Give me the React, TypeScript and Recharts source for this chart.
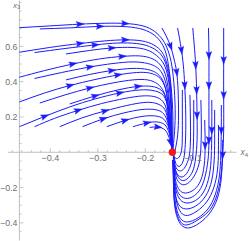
import React from 'react';
import { ComposedChart, Line, Scatter, XAxis, YAxis, ReferenceLine, ReferenceDot } from 'recharts';

type P = [number, number];

// ---- streamlines (x4, x3) ----
const A1: P[] = [[-0.465,0.706],[-0.401,0.716],[-0.338,0.726],[-0.285,0.731],[-0.243,0.730],[-0.205,0.716],[-0.180,0.684],[-0.163,0.636],[-0.152,0.575],[-0.144,0.489],[-0.139,0.360],[-0.137,0.211],[-0.139,0.098],[-0.142,0.002]];
const A2: P[] = [[-0.422,0.699],[-0.359,0.705],[-0.296,0.713],[-0.249,0.713],[-0.212,0.701],[-0.186,0.673],[-0.169,0.631],[-0.158,0.574],[-0.151,0.489],[-0.145,0.353],[-0.142,0.211],[-0.142,0.098],[-0.143,0.002]];
const B1: P[] = [[-0.465,0.567],[-0.401,0.594],[-0.338,0.616],[-0.285,0.631],[-0.243,0.637],[-0.207,0.631],[-0.182,0.608],[-0.165,0.568],[-0.155,0.506],[-0.148,0.410],[-0.145,0.268],[-0.144,0.126],[-0.143,0.002]];
const B2: P[] = [[-0.433,0.565],[-0.369,0.588],[-0.306,0.608],[-0.258,0.619],[-0.218,0.616],[-0.191,0.599],[-0.172,0.568],[-0.159,0.517],[-0.151,0.432],[-0.146,0.296],[-0.144,0.138],[-0.143,0.002]];
const B3: P[] = [[-0.367,0.557],[-0.317,0.577],[-0.271,0.591],[-0.228,0.594],[-0.197,0.580],[-0.176,0.548],[-0.161,0.500],[-0.152,0.421],[-0.147,0.296],[-0.145,0.138],[-0.143,0.002]];
const C1: P[] = [[-0.465,0.425],[-0.412,0.463],[-0.353,0.500],[-0.296,0.529],[-0.249,0.543],[-0.212,0.546],[-0.186,0.531],[-0.170,0.500],[-0.158,0.443],[-0.151,0.342],[-0.147,0.194],[-0.143,0.002]];
const C2: P[] = [[-0.433,0.418],[-0.376,0.452],[-0.317,0.483],[-0.268,0.503],[-0.226,0.512],[-0.195,0.503],[-0.174,0.478],[-0.161,0.427],[-0.153,0.342],[-0.148,0.211],[-0.143,0.002]];
const C3: P[] = [[-0.367,0.410],[-0.317,0.441],[-0.271,0.463],[-0.228,0.475],[-0.195,0.469],[-0.174,0.444],[-0.161,0.393],[-0.154,0.308],[-0.149,0.183],[-0.143,0.002]];
const D1: P[] = [[-0.465,0.285],[-0.412,0.336],[-0.359,0.378],[-0.306,0.412],[-0.258,0.438],[-0.218,0.452],[-0.191,0.449],[-0.172,0.427],[-0.160,0.381],[-0.153,0.302],[-0.149,0.172],[-0.143,0.002]];
const D2: P[] = [[-0.422,0.279],[-0.369,0.325],[-0.317,0.364],[-0.268,0.393],[-0.226,0.410],[-0.195,0.410],[-0.174,0.387],[-0.161,0.342],[-0.154,0.268],[-0.150,0.149],[-0.143,0.002]];
const D3: P[] = [[-0.359,0.274],[-0.306,0.319],[-0.258,0.353],[-0.216,0.373],[-0.186,0.373],[-0.167,0.353],[-0.157,0.308],[-0.151,0.228],[-0.148,0.126],[-0.143,0.002]];
const E1: P[] = [[-0.465,0.145],[-0.412,0.203],[-0.359,0.257],[-0.306,0.302],[-0.254,0.336],[-0.212,0.353],[-0.184,0.350],[-0.165,0.330],[-0.156,0.290],[-0.151,0.223],[-0.148,0.126],[-0.143,0.002]];
const E2: P[] = [[-0.433,0.145],[-0.391,0.192],[-0.342,0.237],[-0.292,0.276],[-0.243,0.305],[-0.207,0.319],[-0.182,0.316],[-0.166,0.296],[-0.157,0.257],[-0.152,0.194],[-0.148,0.109],[-0.143,0.002]];
const E3: P[] = [[-0.380,0.145],[-0.334,0.194],[-0.285,0.234],[-0.239,0.265],[-0.203,0.282],[-0.180,0.279],[-0.164,0.259],[-0.156,0.223],[-0.151,0.160],[-0.147,0.081],[-0.143,0.002]];
const E4: P[] = [[-0.332,0.145],[-0.289,0.189],[-0.245,0.223],[-0.207,0.242],[-0.180,0.242],[-0.164,0.225],[-0.155,0.189],[-0.149,0.126],[-0.143,0.002]];
const E5: P[] = [[-0.281,0.145],[-0.243,0.180],[-0.207,0.203],[-0.180,0.206],[-0.163,0.192],[-0.154,0.160],[-0.148,0.109],[-0.143,0.002]];
const E6: P[] = [[-0.226,0.145],[-0.197,0.166],[-0.176,0.172],[-0.161,0.160],[-0.153,0.132],[-0.147,0.081],[-0.143,0.002]];
const E7: P[] = [[-0.191,0.141],[-0.174,0.143],[-0.161,0.132],[-0.153,0.104],[-0.147,0.058],[-0.143,0.002]];
const V1: P[] = [[-0.165,0.704],[-0.156,0.659],[-0.147,0.602],[-0.140,0.534],[-0.134,0.455],[-0.131,0.353],[-0.130,0.240],[-0.131,0.126],[-0.135,0.041],[-0.140,-0.015]];
const V2: P[] = [[-0.132,0.704],[-0.128,0.647],[-0.124,0.580],[-0.120,0.495],[-0.117,0.381],[-0.115,0.240],[-0.115,0.098],[-0.117,0.002],[-0.121,-0.055],[-0.129,-0.080],[-0.136,-0.062],[-0.139,-0.027]];
const V3: P[] = [[-0.100,0.704],[-0.097,0.608],[-0.094,0.495],[-0.092,0.353],[-0.091,0.211],[-0.091,0.070],[-0.094,-0.032],[-0.100,-0.106],[-0.112,-0.151],[-0.125,-0.157],[-0.135,-0.117],[-0.139,-0.061]];
const V4: P[] = [[-0.067,0.704],[-0.066,0.551],[-0.066,0.381],[-0.066,0.211],[-0.066,0.070],[-0.068,-0.044],[-0.075,-0.146],[-0.087,-0.220],[-0.106,-0.259],[-0.123,-0.253],[-0.134,-0.208],[-0.139,-0.134],[-0.141,-0.055]];
const V5: P[] = [[-0.035,0.704],[-0.035,0.523],[-0.035,0.325],[-0.035,0.126],[-0.037,-0.015],[-0.040,-0.146],[-0.048,-0.259],[-0.064,-0.344],[-0.086,-0.401],[-0.109,-0.429],[-0.126,-0.406],[-0.136,-0.338],[-0.140,-0.242],[-0.141,-0.129],[-0.142,-0.044]];
const O2: P[] = [[-0.040,0.268],[-0.040,0.126],[-0.041,-0.015],[-0.044,-0.134],[-0.053,-0.242],[-0.068,-0.321],[-0.089,-0.372],[-0.111,-0.395],[-0.126,-0.375],[-0.135,-0.310],[-0.139,-0.214],[-0.141,-0.112],[-0.142,-0.044]];
const O3: P[] = [[-0.046,0.155],[-0.046,0.013],[-0.048,-0.100],[-0.056,-0.202],[-0.071,-0.282],[-0.091,-0.333],[-0.111,-0.358],[-0.125,-0.341],[-0.134,-0.282],[-0.138,-0.191],[-0.140,-0.100],[-0.141,-0.044]];
const O4: P[] = [[-0.037,0.070],[-0.038,-0.044],[-0.042,-0.157],[-0.052,-0.265],[-0.068,-0.338],[-0.091,-0.386],[-0.113,-0.412],[-0.127,-0.389],[-0.136,-0.321],[-0.140,-0.225],[-0.141,-0.129],[-0.142,-0.044]];
const M1: P[] = [[-0.060,0.296],[-0.060,0.126],[-0.061,-0.015],[-0.065,-0.128],[-0.076,-0.219],[-0.094,-0.273],[-0.115,-0.287],[-0.129,-0.259],[-0.137,-0.197],[-0.140,-0.112],[-0.141,-0.044]];
const M2: P[] = [[-0.075,0.183],[-0.074,0.041],[-0.076,-0.072],[-0.083,-0.157],[-0.097,-0.211],[-0.115,-0.231],[-0.128,-0.214],[-0.136,-0.163],[-0.139,-0.095],[-0.141,-0.032]];
const M3: P[] = [[-0.054,0.240],[-0.054,0.070],[-0.055,-0.044],[-0.060,-0.157],[-0.073,-0.248],[-0.094,-0.305],[-0.115,-0.321],[-0.129,-0.299],[-0.137,-0.236],[-0.140,-0.146],[-0.141,-0.055]];
const I1: P[] = [[-0.083,0.296],[-0.082,0.155],[-0.083,0.024],[-0.087,-0.066],[-0.097,-0.134],[-0.111,-0.177],[-0.125,-0.180],[-0.135,-0.140],[-0.139,-0.078],[-0.141,-0.027]];
const I2: P[] = [[-0.106,0.325],[-0.105,0.183],[-0.105,0.058],[-0.108,-0.027],[-0.116,-0.083],[-0.126,-0.106],[-0.135,-0.089],[-0.139,-0.049],[-0.141,-0.015]];
const I3: P[] = [[-0.122,0.353],[-0.122,0.211],[-0.122,0.098],[-0.123,0.024],[-0.127,-0.020],[-0.134,-0.036],[-0.139,-0.023],[-0.141,-0.004]];
const I4: P[] = [[-0.098,0.296],[-0.098,0.155],[-0.099,0.024],[-0.103,-0.060],[-0.113,-0.120],[-0.125,-0.140],[-0.135,-0.112],[-0.139,-0.066],[-0.141,-0.021]];

const fixedPoint = [{ x: -0.143, y: 0 }];

// ---- ticks ----
const xMajorTicks = [-0.4, -0.3, -0.2, -0.1];
const xMajorLabels = ['\u22120.4', '\u22120.3', '\u22120.2', '\u22120.1'];
const xMinorTicks = [-0.48,-0.46,-0.44,-0.42,-0.38,-0.36,-0.34,-0.32,-0.28,-0.26,-0.24,-0.22,-0.18,-0.16,-0.14,-0.12,-0.08,-0.06,-0.04,-0.02];
const yMajorTicks = [-0.4, -0.2, 0.2, 0.4, 0.6];
const yMajorLabels = ['\u22120.4', '\u22120.2', '0.2', '0.4', '0.6'];
const yMinorTicks = [-0.45,-0.35,-0.3,-0.25,-0.15,-0.1,-0.05,0.05,0.1,0.15,0.25,0.3,0.35,0.45,0.5,0.55,0.65,0.7,0.75,0.8,0.85];
const xTitle = ['x', '4'];
const yTitle = ['x', '3'];
const yAxisAt = -0.465;

// ---- layout / style ----
const W = 249, H = 241;
const MARGIN = { top: 0.5, right: 12.5, bottom: 0.5, left: 8 };
const XMIN = -0.489, XMAX = -0.008, YMIN = -0.5, YMAX = 0.86;
const KX = (W - MARGIN.left - MARGIN.right) / (XMAX - XMIN);
const KY = (H - MARGIN.top - MARGIN.bottom) / (YMAX - YMIN);
const BLUE = '#1a1aff';
const AXIS = '#b8b8b8';
const TXT = '#707070';
const FONT = '"Liberation Sans", Arial, sans-serif';

const toXY = (a: P[]) => a.map(([x, y]) => ({ x, y }));

const streams = [
  { d: A1, ar: [2, 4] }, { d: A2, ar: [2] },
  { d: B1, ar: [2, 4] }, { d: B2, ar: [2] }, { d: B3, ar: [2] },
  { d: C1, ar: [2, 4] }, { d: C2, ar: [2] }, { d: C3, ar: [2] },
  { d: D1, ar: [2, 4] }, { d: D2, ar: [2] }, { d: D3, ar: [1, 3] },
  { d: E1, ar: [1, 4] }, { d: E2, ar: [2] }, { d: E3, ar: [2] }, { d: E4, ar: [1] },
  { d: E5, ar: [1] }, { d: E6, ar: [1] }, { d: E7, ar: [1, 4] },
  { d: V1, ar: [2, 4] }, { d: V2, ar: [2, 4] }, { d: V3, ar: [2, 3, 4] }, { d: V4, ar: [1, 2, 4] }, { d: V5, ar: [1, 2, 4] },
  { d: O2, ar: [1] }, { d: O3, ar: [] }, { d: O4, ar: [] }, { d: M1, ar: [1] }, { d: M2, ar: [1] }, { d: M3, ar: [] },
  { d: I1, ar: [] }, { d: I2, ar: [] }, { d: I3, ar: [] }, { d: I4, ar: [] },
].map((s) => ({ data: toXY(s.d), arrows: s.ar }));

const makeArrow = (data: { x: number; y: number }[], arrows: number[]) => (p: any) => {
  const i = p.index;
  if (!arrows.includes(i)) return null;
  const a = data[Math.max(i - 1, 0)];
  const b = data[Math.min(i + 1, data.length - 1)];
  const ang = (Math.atan2(-(b.y - a.y) * KY, (b.x - a.x) * KX) * 180) / Math.PI;
  return (
    <path
      key={`ar${i}`}
      d="M4.4,0 L-3.4,-2.8 L-2,0 L-3.4,2.8 Z"
      transform={`translate(${p.cx},${p.cy}) rotate(${ang})`}
      fill={BLUE}
      stroke={BLUE}
      strokeWidth={0.4}
      strokeLinejoin="round"
    />
  );
};

const xTick = (len: number, label?: string) => (p: any) => (
  <g>
    <line x1={p.cx} y1={p.cy} x2={p.cx} y2={p.cy - len} stroke={AXIS} strokeWidth={0.8} />
    {label ? (
      <text x={p.cx} y={p.cy + 9} textAnchor="middle" fontSize={9} fill={TXT} fontFamily={FONT}>{label}</text>
    ) : null}
  </g>
);

const yTick = (len: number, label?: string) => (p: any) => (
  <g>
    <line x1={p.cx} y1={p.cy} x2={p.cx + len} y2={p.cy} stroke={AXIS} strokeWidth={0.8} />
    {label ? (
      <text x={p.cx - 2} y={p.cy + 3.2} textAnchor="end" fontSize={8.8} fill={TXT} fontFamily={FONT}>{label}</text>
    ) : null}
  </g>
);

const xTitleShape = (p: any) => (
  <text x={p.cx + 4} y={p.cy + 2.5} fontSize={8.5} fill={TXT} fontFamily={FONT} fontStyle="italic">
    {xTitle[0]}
    <tspan fontSize={6} dy={1.8} fontStyle="normal">{xTitle[1]}</tspan>
  </text>
);

const yTitleShape = (p: any) => (
  <text x={p.cx - 6.5} y={p.cy + 7} fontSize={8} fill={TXT} fontFamily={FONT} fontStyle="italic">
    {yTitle[0]}
    <tspan fontSize={5.8} dy={1.6} fontStyle="normal">{yTitle[1]}</tspan>
  </text>
);

const RedDot = (p: any) => <circle cx={p.cx} cy={p.cy} r={3.7} fill="#ee1c1c" />;

export default function App() {
  return (
    <div style={{ position: 'absolute', left: 0, top: 0, width: W, height: H, background: '#ffffff' }}>
      <ComposedChart width={W} height={H} margin={MARGIN}>
        <XAxis type="number" dataKey="x" domain={[XMIN, XMAX]} allowDataOverflow hide />
        <YAxis type="number" dataKey="y" domain={[YMIN, YMAX]} allowDataOverflow hide />
        <ReferenceLine y={0} stroke={AXIS} strokeWidth={0.9} />
        <ReferenceLine x={yAxisAt} stroke={AXIS} strokeWidth={0.9} />
        {xMinorTicks.map((t) => (
          <ReferenceDot key={`xm${t}`} x={t} y={0} r={0} shape={xTick(2.2)} />
        ))}
        {xMajorTicks.map((t, i) => (
          <ReferenceDot key={`xM${t}`} x={t} y={0} r={0} shape={xTick(4, xMajorLabels[i])} />
        ))}
        {yMinorTicks.map((t) => (
          <ReferenceDot key={`ym${t}`} x={yAxisAt} y={t} r={0} shape={yTick(2.2)} />
        ))}
        {yMajorTicks.map((t, i) => (
          <ReferenceDot key={`yM${t}`} x={yAxisAt} y={t} r={0} shape={yTick(4, yMajorLabels[i])} />
        ))}
        <ReferenceDot x={XMAX} y={0} r={0} ifOverflow="visible" shape={xTitleShape} />
        <ReferenceDot x={yAxisAt} y={YMAX} r={0} ifOverflow="visible" shape={yTitleShape} />
        {streams.map((s, i) => (
          <Line
            key={`s${i}`}
            data={s.data}
            dataKey="y"
            type="natural"
            stroke={BLUE}
            strokeWidth={1}
            dot={makeArrow(s.data, s.arrows)}
            activeDot={false}
            isAnimationActive={false}
            legendType="none"
          />
        ))}
        <Scatter data={fixedPoint} shape={RedDot} isAnimationActive={false} />
      </ComposedChart>
    </div>
  );
}
